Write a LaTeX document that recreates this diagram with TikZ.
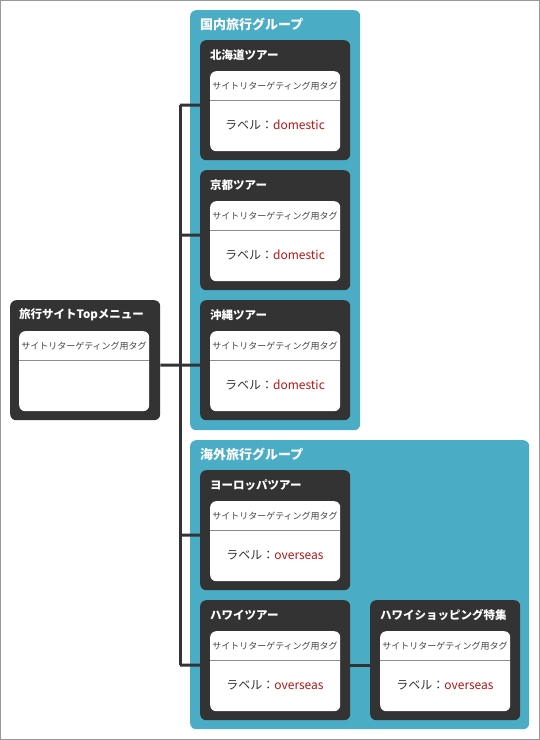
\documentclass[tikz,border=0pt]{standalone}
\usepackage{fontspec}
\setmainfont{Noto Sans CJK JP}
\definecolor{grpteal}{HTML}{4BACC6}
\definecolor{darkbox}{HTML}{333333}
\definecolor{labred}{HTML}{B81414}
\definecolor{framegray}{HTML}{999999}
\definecolor{sepgray}{HTML}{8C8C8C}
\definecolor{taggray}{HTML}{444444}
\tikzset{
  group/.style={fill=grpteal, draw=none, rounded corners=6pt, anchor=north west, inner sep=0pt},
  dbox/.style={fill=darkbox, draw=none, rounded corners=6pt, anchor=north west, inner sep=0pt, minimum width=150pt, minimum height=120pt},
  wbox/.style={fill=white, draw=none, rounded corners=6pt, anchor=north west, inner sep=0pt, minimum width=130pt, minimum height=80pt},
  ttl/.style={text=white, anchor=west, inner sep=0pt, font=\fontsize{11.5}{13}\selectfont\bfseries},
  gttl/.style={text=white, anchor=west, inner sep=0pt, font=\fontsize{13}{15}\selectfont\bfseries},
  tagtxt/.style={text=taggray, inner sep=0pt, font=\fontsize{9}{10}\selectfont},
  labtxt/.style={text=darkbox, inner sep=0pt, font=\fontsize{12}{14}\selectfont},
  conn/.style={draw=darkbox, line width=3pt},
  sep/.style={draw=sepgray, line width=1pt}
}
\newcommand\tourbox[5]{%
  \node[dbox] (#1) at (#2,#3) {};
  \node[ttl] (#1-t) at (#2+10,#3+15) {#4};
  \node[wbox] (#1-w) at (#2+10,#3+31) {};
  \draw[sep] (#2+10,#3+60) -- (#2+140,#3+60);
  \node[tagtxt] (#1-g) at (#2+75,#3+46) {サイトリターゲティング用タグ};
  \node[labtxt] (#1-l) at (#2+75,#3+85) {#5};
}
\begin{document}
\begin{tikzpicture}[x=1pt,y=-1pt]
\useasboundingbox (0,0) rectangle (540,740);
\draw[framegray, line width=1pt] (0.5,0.5) rectangle (539.5,739.5);
% groups
\node[group, minimum width=170pt, minimum height=420pt] (gdom) at (190,10) {};
\node[gttl] (gdom-t) at (200,24) {国内旅行グループ};
\node[group, minimum width=339pt, minimum height=289pt] (gov) at (190,440) {};
\node[gttl] (gov-t) at (200,454) {海外旅行グループ};
% top menu
\node[dbox] (top) at (10,300) {};
\node[ttl] (top-t) at (19,315) {旅行サイトTopメニュー};
\node[wbox, minimum width=130pt] (top-w) at (19,331) {};
\draw[sep] (19,360) -- (149,360);
\node[tagtxt] (top-g) at (84,346) {サイトリターゲティング用タグ};
% tours
\tourbox{hok}{200}{40}{北海道ツアー}{ラベル：\textcolor{labred}{domestic}}
\tourbox{kyo}{200}{170}{京都ツアー}{ラベル：\textcolor{labred}{domestic}}
\tourbox{oki}{200}{300}{沖縄ツアー}{ラベル：\textcolor{labred}{domestic}}
\tourbox{eur}{200}{470}{ヨーロッパツアー}{ラベル：\textcolor{labred}{overseas}}
\tourbox{haw}{200}{600}{ハワイツアー}{ラベル：\textcolor{labred}{overseas}}
\tourbox{shop}{370}{600}{ハワイショッピング特集}{ラベル：\textcolor{labred}{overseas}}
% connectors
\coordinate (b1) at (180,105);
\coordinate (b2) at (180,235);
\coordinate (b3) at (180,365);
\coordinate (b4) at (180,535);
\coordinate (b5) at (180,665);
\draw[conn] ([yshift=-5pt]top.east) -- (b3);
\draw[conn] (b1) -- (b5);
\draw[conn] (b1) -- ([yshift=-5pt]hok.west);
\draw[conn] (b2) -- ([yshift=-5pt]kyo.west);
\draw[conn] (b3) -- ([yshift=-5pt]oki.west);
\draw[conn] (b4) -- ([yshift=-5pt]eur.west);
\draw[conn] (b5) -- ([yshift=-5pt]haw.west);
\draw[conn] ([yshift=-5pt]haw.east) -- ([yshift=-5pt]shop.west);
\end{tikzpicture}
\end{document}
